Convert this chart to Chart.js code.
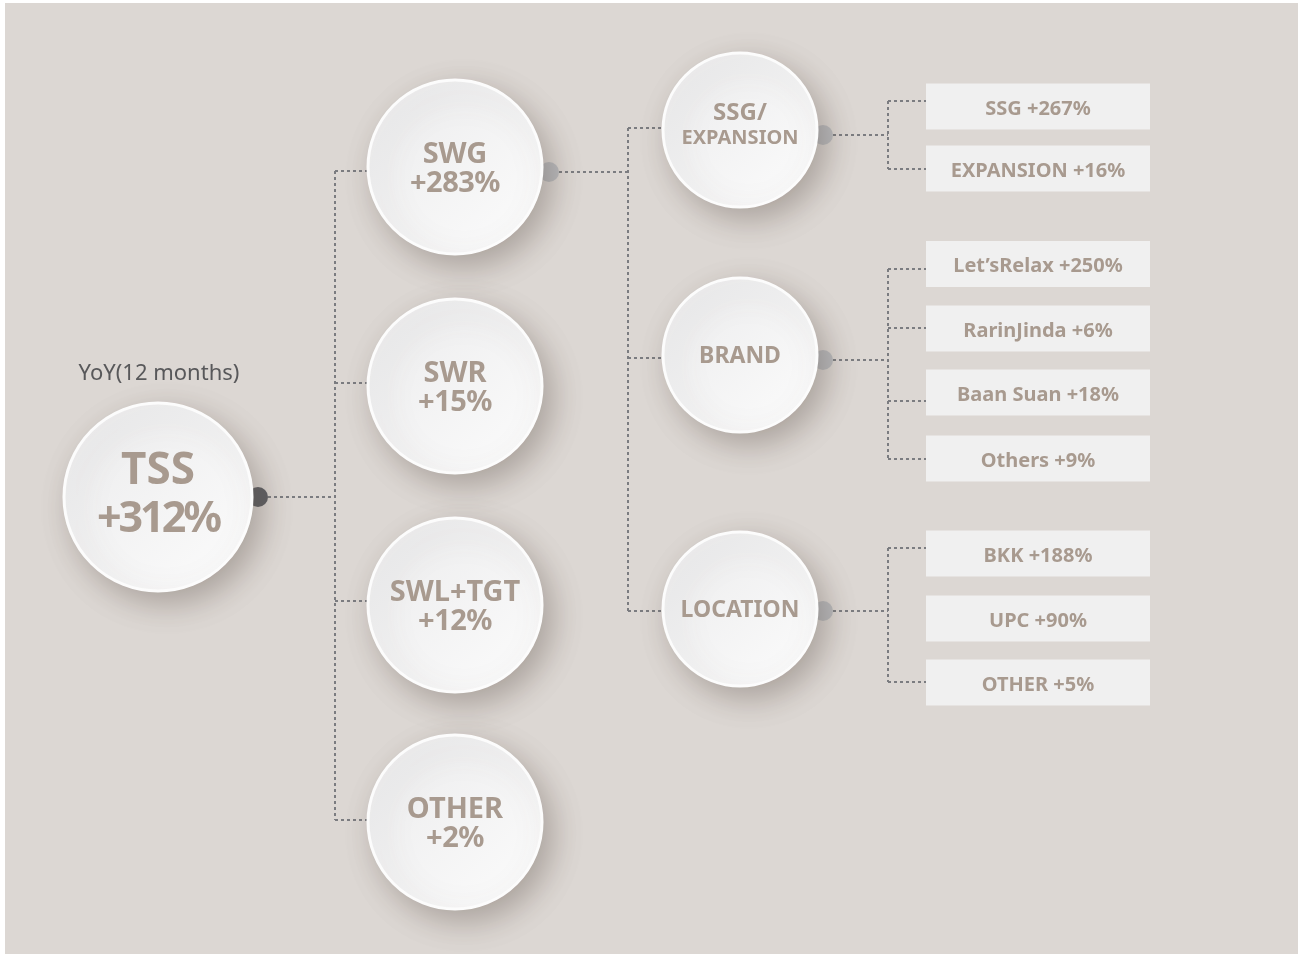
<!DOCTYPE html>
<html>
<head>
<meta charset="utf-8">
<script src="https://cdn.jsdelivr.net/npm/chart.js"></script>
<style>
html, body { margin: 0; padding: 0; background: #ffffff; }
#treeChart { display: block; }
</style>
</head>
<body>
<canvas id="treeChart" width="1298" height="955"></canvas>
<script>
// ---- data ----
var rootCaption = 'YoY(12 months)';
var rootName = 'TSS';
var rootValue = '+312%';
var segNames = ['SWG', 'SWR', 'SWL+TGT', 'OTHER'];
var segValues = ['+283%', '+15%', '+12%', '+2%'];
var driverNames = [['SSG/', 'EXPANSION'], ['BRAND'], ['LOCATION']];
var leafNames = ['SSG', 'EXPANSION', 'Let\u2019sRelax', 'RarinJinda', 'Baan Suan', 'Others', 'BKK', 'UPC', 'OTHER'];
var leafValues = ['+267%', '+16%', '+250%', '+6%', '+18%', '+9%', '+188%', '+90%', '+5%'];
var leafParent = [0, 0, 1, 1, 1, 1, 2, 2, 2];

// ---- layout (axis units, both axes span the canvas) ----
var colX = [158, 455, 740, 1038];
var radius = [94, 87, 77];
var rootY = 497;
var segY = [167, 386, 605, 822];
var segBranchY = [171, 383, 601, 820];
var driverY = [130, 355, 609];
var driverBranchY = [128, 358, 611];
var driverDotY = [135, 360, 611];
var leafY = [106.5, 168.5, 264, 328.5, 392.5, 458.5, 553.5, 618.5, 682.5];
var leafBranchY = [101, 169, 269, 328, 401, 459, 548, null, 682];
var trunkX = [335, 628, 888];
var branchEndX = [368, 664, 926];
var boxW = 224, boxH = 46;

var textColor = '#a89a8f';
var lineColor = '#7b7c80';
var font = '"Noto Sans", "DejaVu Sans", sans-serif';

// connector segments
var segs = [];
function seg(x1, y1, x2, y2) { segs.push([{x: x1, y: y1}, {x: x2, y: y2}]); }

seg(268, rootY, trunkX[0], rootY);
seg(trunkX[0], Math.min.apply(null, segBranchY), trunkX[0], Math.max.apply(null, segBranchY));
segBranchY.forEach(function(y) { seg(trunkX[0], y, branchEndX[0], y); });

seg(559, 172, trunkX[1], 172);
seg(trunkX[1], Math.min.apply(null, driverBranchY), trunkX[1], Math.max.apply(null, driverBranchY));
driverBranchY.forEach(function(y) { seg(trunkX[1], y, branchEndX[1], y); });

driverDotY.forEach(function(dy, i) {
  seg(833, dy, trunkX[2], dy);
  var ys = [dy];
  leafBranchY.forEach(function(y, j) { if (leafParent[j] === i && y !== null) ys.push(y); });
  seg(trunkX[2], Math.min.apply(null, ys), trunkX[2], Math.max.apply(null, ys));
  leafBranchY.forEach(function(y, j) {
    if (leafParent[j] === i && y !== null) seg(trunkX[2], y, branchEndX[2], y);
  });
});

var datasets = [];
segs.forEach(function(s) {
  datasets.push({
    type: 'scatter', data: s, showLine: true, borderColor: lineColor,
    borderWidth: 2, borderDash: [3, 3], pointRadius: 0, order: 3, clip: false
  });
});

// connector knobs
var dotData = [{x: 258, y: rootY}, {x: 549, y: 172}];
var dotColors = ['#5d5e62', '#b9babd'];
driverDotY.forEach(function(y) { dotData.push({x: 823, y: y}); dotColors.push('#b9babd'); });
datasets.push({
  type: 'scatter', data: dotData, pointRadius: 10, pointBackgroundColor: dotColors,
  pointBorderWidth: 0, order: 2, clip: false
});

// circles
var circles = [{x: colX[0], y: rootY, r: radius[0]}];
segY.forEach(function(y) { circles.push({x: colX[1], y: y, r: radius[1]}); });
driverY.forEach(function(y) { circles.push({x: colX[2], y: y, r: radius[2]}); });
datasets.push({
  type: 'bubble', data: circles, order: 0, clip: false,
  borderColor: 'rgba(252,252,252,1)', borderWidth: 3,
  backgroundColor: function(c) {
    var ch = c.chart;
    if (!ch.chartArea || !c.raw) return '#f3f3f3';
    var px = ch.scales.x.getPixelForValue(c.raw.x);
    var py = ch.scales.y.getPixelForValue(c.raw.y);
    var r = c.raw.r;
    var g = ch.ctx.createLinearGradient(px - r, py - r, px + r, py + r);
    g.addColorStop(0, '#ebebec');
    g.addColorStop(1, '#fcfcfc');
    return g;
  }
});

function text(ctx, s, x, y, size, weight, color, spacing) {
  ctx.font = weight + ' ' + size + 'px ' + font;
  ctx.fillStyle = color;
  ctx.textAlign = 'center';
  ctx.textBaseline = 'alphabetic';
  ctx.letterSpacing = (spacing || 0) + 'px';
  ctx.fillText(s, x, y);
  ctx.letterSpacing = '0px';
}

var decor = {
  id: 'decor',
  beforeDraw: function(chart) {
    var ctx = chart.ctx, xs = chart.scales.x, ys = chart.scales.y;
    ctx.save();
    ctx.fillStyle = '#ffffff';
    ctx.fillRect(0, 0, chart.width, chart.height);
    ctx.fillStyle = '#dcd7d3';
    var x0 = xs.getPixelForValue(5), y0 = ys.getPixelForValue(3);
    ctx.fillRect(x0, y0, xs.getPixelForValue(1298) - x0, ys.getPixelForValue(954) - y0);
    ctx.restore();
  },
  beforeDatasetsDraw: function(chart) {
    var ctx = chart.ctx, xs = chart.scales.x, ys = chart.scales.y;
    ctx.save();
    ctx.fillStyle = '#f0f0f0';
    leafY.forEach(function(y) {
      var l = xs.getPixelForValue(colX[3] - boxW / 2), t = ys.getPixelForValue(y - boxH / 2);
      ctx.fillRect(l, t, xs.getPixelForValue(colX[3] + boxW / 2) - l, ys.getPixelForValue(y + boxH / 2) - t);
    });
    ctx.restore();
  },
  beforeDatasetDraw: function(chart, args) {
    if (args.meta.type === 'bubble') {
      var ctx = chart.ctx;
      ctx.save();
      ctx.shadowColor = 'rgba(95,80,70,0.38)';
      ctx.shadowBlur = 30;
      ctx.shadowOffsetX = 9;
      ctx.shadowOffsetY = 11;
    }
  },
  afterDatasetDraw: function(chart, args) {
    if (args.meta.type === 'bubble') chart.ctx.restore();
  },
  afterDatasetsDraw: function(chart) {
    var ctx = chart.ctx, xs = chart.scales.x, ys = chart.scales.y;
    function X(v) { return xs.getPixelForValue(v); }
    function Y(v) { return ys.getPixelForValue(v); }
    ctx.save();
    text(ctx, rootCaption, X(159), Y(380), 22, 400, '#58585a');
    text(ctx, rootName, X(colX[0]), Y(rootY - 13), 44, 700, textColor);
    text(ctx, rootValue, X(colX[0]), Y(rootY + 35), 43, 700, textColor, -3);
    segNames.forEach(function(n, i) {
      text(ctx, n, X(colX[1]), Y(segY[i] - 4), 29, 700, textColor);
      text(ctx, segValues[i], X(colX[1]), Y(segY[i] + 25), 29, 700, textColor, -0.5);
    });
    driverNames.forEach(function(lines, i) {
      if (lines.length === 2) {
        text(ctx, lines[0], X(colX[2]), Y(driverY[i] - 10), 24, 700, textColor);
        text(ctx, lines[1], X(colX[2]), Y(driverY[i] + 14), 20, 700, textColor);
      } else {
        text(ctx, lines[0], X(colX[2]), Y(driverY[i] + 8), 23, 700, textColor);
      }
    });
    leafNames.forEach(function(n, i) {
      text(ctx, n + ' ' + leafValues[i], X(colX[3]), Y(leafY[i] + 8), 20, 700, textColor);
    });
    ctx.restore();
  }
};

new Chart(document.getElementById('treeChart').getContext('2d'), {
  type: 'bubble',
  data: { datasets: datasets },
  options: {
    responsive: false,
    animation: false,
    events: [],
    layout: { padding: 0, autoPadding: false },
    scales: {
      x: { type: 'linear', min: 0, max: 1298, display: false },
      y: { type: 'linear', min: 0, max: 955, reverse: true, display: false }
    },
    plugins: { legend: { display: false }, tooltip: { enabled: false } }
  },
  plugins: [decor]
});
</script>
</body>
</html>
